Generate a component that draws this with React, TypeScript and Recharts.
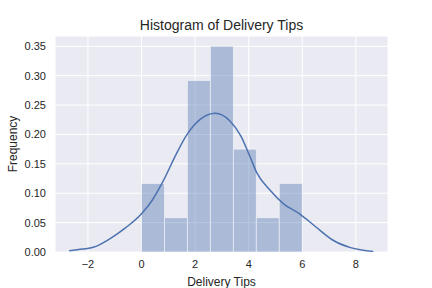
import React from 'react';
import { ComposedChart, Line, XAxis, YAxis, CartesianGrid, ReferenceArea } from 'recharts';

const binEdges = [0, 0.857, 1.714, 2.571, 3.429, 4.286, 5.143, 6.0];
const binDensity = [0.1167, 0.0583, 0.2917, 0.35, 0.175, 0.0583, 0.1167];

const kdeX = [-2.7, -2.2, -1.8, -1.2, -0.6, 0, 0.4, 0.8, 1.3, 1.7, 2.2, 2.75, 3.3, 3.7, 4.05, 4.3, 4.8, 5.3, 5.9, 6.5, 7.15, 7.8, 8.65];
const kdeY = [0.002, 0.005, 0.008, 0.022, 0.041, 0.065, 0.088, 0.12, 0.167, 0.2, 0.226, 0.236, 0.223, 0.198, 0.162, 0.135, 0.105, 0.082, 0.065, 0.043, 0.02, 0.0075, 0.001];

const xTicks = [-2, 0, 2, 4, 6, 8];
const yTicks = [0, 0.05, 0.1, 0.15, 0.2, 0.25, 0.3, 0.35];

const title = 'Histogram of Delivery Tips';
const xLabel = 'Delivery Tips';
const yLabel = 'Frequency';

const kdeData = kdeX.map((x, i) => ({ x, y: kdeY[i] }));

const FONT = '"Liberation Sans", Arial, sans-serif';
const TXT = '#262626';

export default function App() {
  return (
    <div style={{ position: 'absolute', left: 0, top: 0, width: 432, height: 288, background: '#fff', fontFamily: FONT }}>
      <div style={{ position: 'absolute', left: 55, width: 333, top: 15, textAlign: 'center', fontSize: 14, color: TXT, lineHeight: '20px' }}>{title}</div>
      <ComposedChart width={432} height={288} data={kdeData} margin={{ top: 36, right: 44, bottom: 0, left: 0 }}>
        <CartesianGrid fill="#eaeaf2" stroke="#ffffff" strokeWidth={1} />
        <XAxis
          dataKey="x"
          type="number"
          domain={[-3.23, 9.2]}
          ticks={xTicks}
          allowDataOverflow
          axisLine={false}
          tickLine={false}
          height={36}
          tick={{ fill: TXT, fontSize: 11, fontFamily: FONT }}
          tickFormatter={(v: number) => (v < 0 ? '\u2212' + Math.abs(v) : String(v))}
          tickMargin={2}
          label={{ value: xLabel, position: 'insideBottom', offset: 2, fill: TXT, fontSize: 12, fontFamily: FONT }}
        />
        <YAxis
          type="number"
          domain={[0, 0.3675]}
          ticks={yTicks}
          allowDataOverflow
          axisLine={false}
          tickLine={false}
          width={55}
          tick={{ fill: TXT, fontSize: 11, fontFamily: FONT }}
          tickFormatter={(v: number) => v.toFixed(2)}
          tickMargin={3}
          label={{ value: yLabel, angle: -90, position: 'insideLeft', offset: 13, fill: TXT, fontSize: 12, fontFamily: FONT, style: { textAnchor: 'middle' } }}
        />
        {binDensity.map((d, i) => (
          <ReferenceArea
            key={i}
            x1={binEdges[i]}
            x2={binEdges[i + 1]}
            y1={0}
            y2={d}
            fill="#4c72b0"
            fillOpacity={0.4}
            stroke="#ffffff"
            strokeOpacity={0.5}
            strokeWidth={1}
            ifOverflow="visible"
          />
        ))}
        <Line
          dataKey="y"
          type="monotone"
          stroke="#4c72b0"
          strokeWidth={1.5}
          dot={false}
          activeDot={false}
          isAnimationActive={false}
        />
      </ComposedChart>
    </div>
  );
}
